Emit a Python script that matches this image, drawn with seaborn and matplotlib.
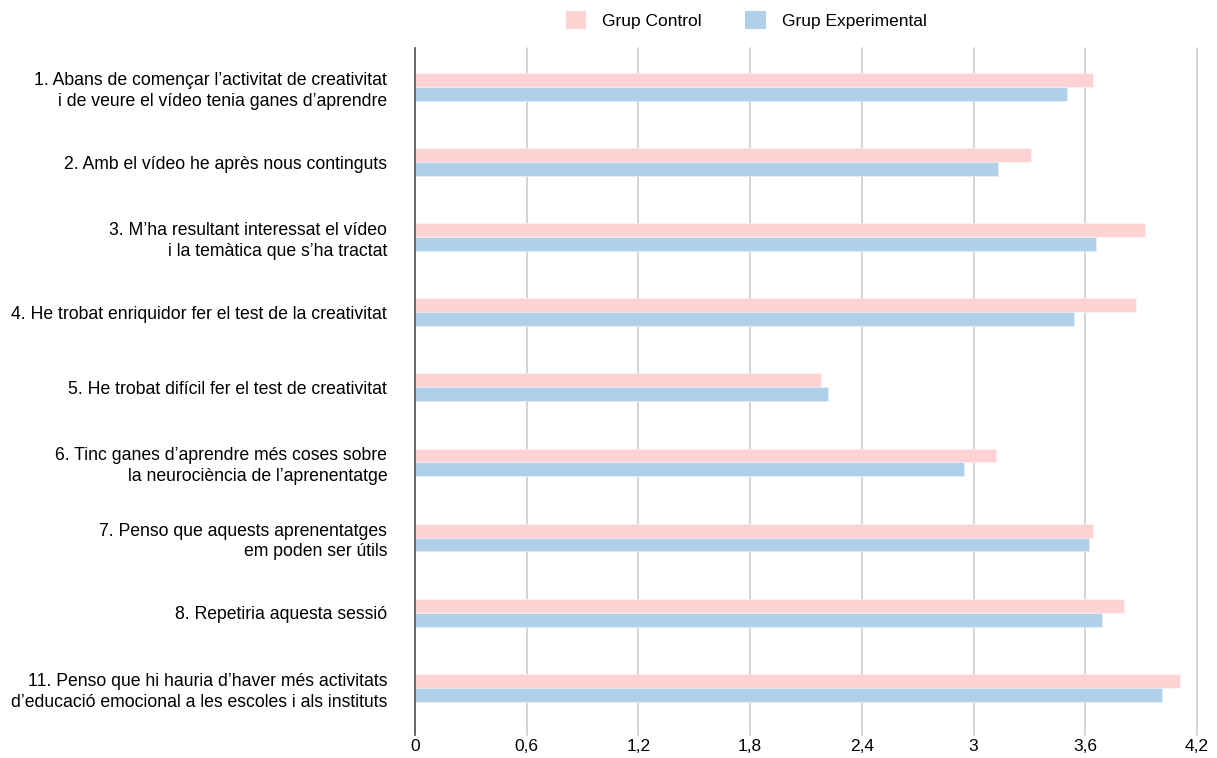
import pandas as pd
import matplotlib.pyplot as plt
import seaborn as sns
from matplotlib.patches import Patch

items = [
    "1. Abans de començar l’activitat de creativitat\ni de veure el vídeo tenia ganes d’aprendre",
    "2. Amb el vídeo he après nous continguts",
    "3. M’ha resultant interessat el vídeo\ni la temàtica que s’ha tractat",
    "4. He trobat enriquidor fer el test de la creativitat",
    "5. He trobat difícil fer el test de creativitat",
    "6. Tinc ganes d’aprendre més coses sobre\nla neurociència de l’aprenentatge",
    "7. Penso que aquests aprenentatges\nem poden ser útils",
    "8. Repetiria aquesta sessió",
    "11. Penso que hi hauria d’haver més activitats\nd’educació emocional a les escoles i als instituts",
]
control = [3.64, 3.31, 3.92, 3.87, 2.18, 3.12, 3.64, 3.81, 4.11]
experimental = [3.50, 3.13, 3.66, 3.54, 2.22, 2.95, 3.62, 3.69, 4.01]
groups = ["Grup Control", "Grup Experimental"]
colors = ["#ffd3d3", "#afd0e8"]

df = pd.DataFrame({
    "item": items * 2,
    "value": control + experimental,
    "group": [groups[0]] * len(items) + [groups[1]] * len(items),
})

sns.set_style("white")
plt.rcParams["font.family"] = ["Liberation Sans", "DejaVu Sans"]
plt.rcParams["text.color"] = "black"
plt.rcParams["xtick.color"] = "black"
plt.rcParams["ytick.color"] = "black"

fig = plt.figure(figsize=(12.17, 7.58), dpi=100)
ax = fig.add_axes([415 / 1217, 1 - 735 / 758, (1197 - 415) / 1217, (735 - 48) / 758])

sns.barplot(data=df, y="item", x="value", hue="group", order=items,
            hue_order=groups, palette=colors, saturation=1, orient="h", width=0.37,
            edgecolor="#fff2f2", linewidth=0.6, legend=False, ax=ax)
for bar in ax.patches[len(items):]:
    bar.set_edgecolor("#e4eff8")

ax.set_xlim(0, 4.2)
ax.set_ylim(len(items) - 0.37, -0.52)
ax.set_xticks([0, 0.6, 1.2, 1.8, 2.4, 3, 3.6, 4.2])
ax.set_xticklabels(["0", "0,6", "1,2", "1,8", "2,4", "3", "3,6", "4,2"], fontsize=12.5)
ax.set_yticks(range(len(items)))
ax.set_yticklabels(items, fontsize=12.7, ha="right", multialignment="right",
                   linespacing=1.3)
ax.tick_params(axis="y", length=0, pad=20, labelcolor="black")
ax.tick_params(axis="x", length=0, pad=3, labelcolor="black")
ax.set_xlabel("")
ax.set_ylabel("")
ax.grid(True, axis="x", color="#cccccc", linewidth=1.2)
for gl in ax.get_xgridlines():
    gl.set_clip_on(False)
ax.set_axisbelow(True)
for s in ["top", "right", "bottom"]:
    ax.spines[s].set_visible(False)
ax.spines["left"].set_color("#555555")
ax.spines["left"].set_linewidth(1.2)

handles = [Patch(facecolor=c, edgecolor="none") for c in colors]
fig.legend(handles, groups, loc="center", bbox_to_anchor=(746 / 1217, 1 - 20 / 758),
           ncol=2, frameon=False, fontsize=12.5, handlelength=1.2, handleheight=1.2,
           columnspacing=2.5, handletextpad=0.9, labelcolor="black")

fig.savefig("out.png", dpi=100)
